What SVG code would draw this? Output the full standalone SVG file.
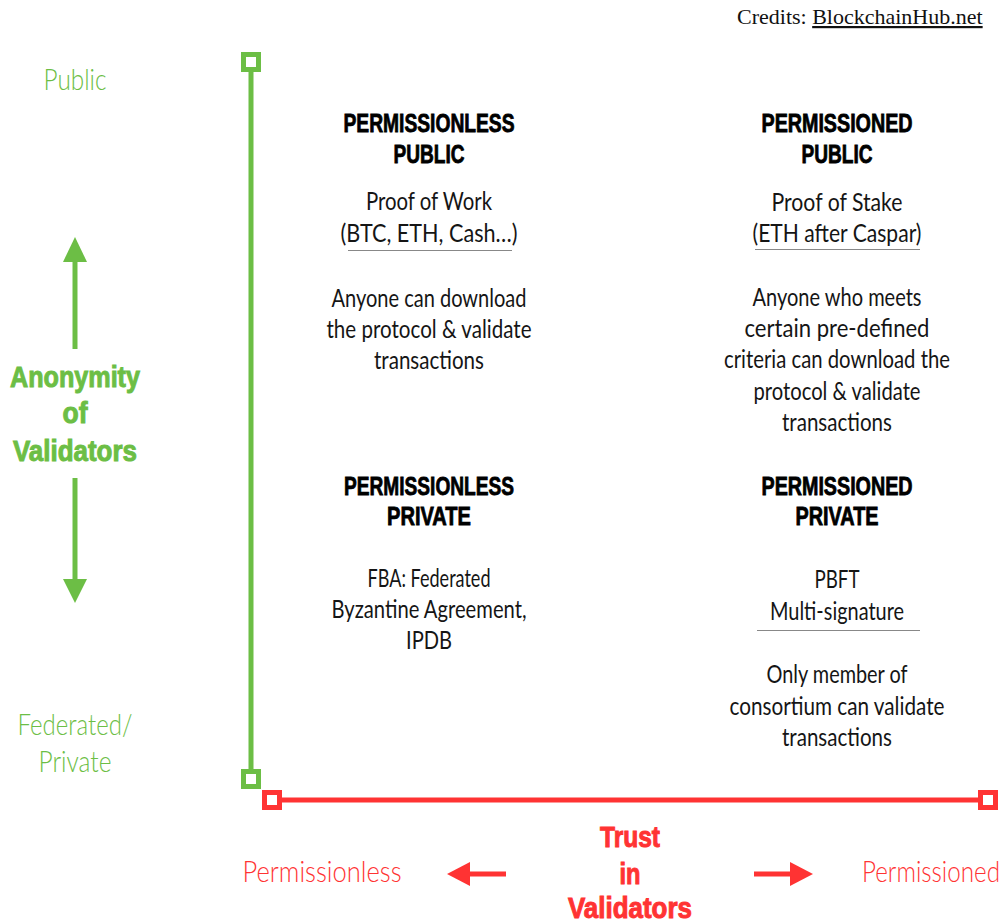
<svg xmlns="http://www.w3.org/2000/svg" width="1008" height="923" viewBox="0 0 1008 923">
<style>
.body{font-family:Lato,"Liberation Sans",sans-serif;font-weight:400;font-size:25px;fill:#151515;text-anchor:middle}
.head{font-family:"Liberation Sans",Arial,sans-serif;font-weight:700;font-size:25px;fill:#000;stroke:#000;stroke-width:0.8;text-anchor:middle}
.gl{font-family:Lato,"Liberation Sans",sans-serif;font-weight:300;font-size:30px;fill:#6CBE45;text-anchor:middle}
.rl{font-family:Lato,"Liberation Sans",sans-serif;font-weight:300;font-size:30px;fill:#FF3333;text-anchor:middle}
.gb{font-family:"Liberation Sans",Arial,sans-serif;font-weight:700;font-size:30px;fill:#6CBE45;stroke:#6CBE45;stroke-width:1;text-anchor:middle}
.rb{font-family:"Liberation Sans",Arial,sans-serif;font-weight:700;font-size:30px;fill:#FF3333;stroke:#FF3333;stroke-width:1;text-anchor:middle}
.ul{stroke:#888;stroke-width:1.2;fill:none}
.gax{stroke:#6CBE45;stroke-width:5;fill:none}
.rax{stroke:#FF3333;stroke-width:5;fill:none}
.gsq{stroke:#6CBE45;stroke-width:5;fill:#fff}
.rsq{stroke:#FF3333;stroke-width:5;fill:#fff}
</style>
<rect width="1008" height="923" fill="#fff"/>

<g id="credits">
<text x="737" y="24" font-family="Liberation Serif,Times New Roman,serif" font-size="22" fill="#111">Credits: <tspan text-decoration="underline">BlockchainHub.net</tspan></text>
</g>

<g id="connectors">
<line class="gax" x1="251" y1="70" x2="251" y2="771"/>
<rect class="gsq" x="243.5" y="54.5" width="15" height="15"/>
<rect class="gsq" x="243.5" y="771.5" width="15" height="15"/>
<line class="rax" x1="280" y1="800" x2="981" y2="800"/>
<rect class="rsq" x="264.5" y="792.5" width="15" height="15"/>
<rect class="rsq" x="980.5" y="792.5" width="15" height="15"/>
<line class="gax" x1="75" y1="258" x2="75" y2="349"/>
<polygon points="75,237 87,262 63,262" fill="#6CBE45"/>
<line class="gax" x1="75" y1="478" x2="75" y2="584"/>
<polygon points="75,603 87,579 63,579" fill="#6CBE45"/>
<line class="rax" x1="465" y1="874" x2="506" y2="874"/>
<polygon points="447,874 470,862 470,886" fill="#FF3333"/>
<line class="rax" x1="754" y1="874" x2="792" y2="874"/>
<polygon points="813,874 790,862 790,886" fill="#FF3333"/>
</g>

<g id="axis-y-labels">
<text class="gl" x="75" y="90" textLength="63" lengthAdjust="spacingAndGlyphs">Public</text>
<text class="gl" x="75" y="735" textLength="115" lengthAdjust="spacingAndGlyphs">Federated/</text>
<text class="gl" x="75" y="772" textLength="73" lengthAdjust="spacingAndGlyphs">Private</text>
<text class="gb" x="75" y="387" textLength="130" lengthAdjust="spacingAndGlyphs">Anonymity</text>
<text class="gb" x="75" y="423" textLength="25" lengthAdjust="spacingAndGlyphs">of</text>
<text class="gb" x="75" y="461" textLength="124" lengthAdjust="spacingAndGlyphs">Validators</text>
</g>

<g id="axis-x-labels">
<text class="rl" x="322" y="882" textLength="159" lengthAdjust="spacingAndGlyphs">Permissionless</text>
<text class="rl" x="1000" y="882" text-anchor="end" style="text-anchor:end" textLength="138" lengthAdjust="spacingAndGlyphs">Permissioned</text>
<text class="rb" x="630" y="847" textLength="60" lengthAdjust="spacingAndGlyphs">Trust</text>
<text class="rb" x="630" y="884" textLength="21" lengthAdjust="spacingAndGlyphs">in</text>
<text class="rb" x="630" y="918" textLength="124" lengthAdjust="spacingAndGlyphs">Validators</text>
</g>

<g id="permissionless-public">
<text class="head" x="429" y="132" textLength="171" lengthAdjust="spacingAndGlyphs">PERMISSIONLESS</text>
<text class="head" x="429" y="163" textLength="71" lengthAdjust="spacingAndGlyphs">PUBLIC</text>
<text class="body" x="429" y="210" textLength="126" lengthAdjust="spacingAndGlyphs">Proof of Work</text>
<text class="body" x="429" y="242" textLength="177" lengthAdjust="spacingAndGlyphs">(BTC, ETH, Cash…)</text>
<line class="ul" x1="348" y1="250.5" x2="512" y2="250.5"/>
<text class="body" x="429" y="307" textLength="195" lengthAdjust="spacingAndGlyphs">Anyone can download</text>
<text class="body" x="429" y="338" textLength="205" lengthAdjust="spacingAndGlyphs">the protocol &amp; validate</text>
<text class="body" x="429" y="369" textLength="110" lengthAdjust="spacingAndGlyphs">transactions</text>
</g>

<g id="permissioned-public">
<text class="head" x="837" y="132" textLength="151" lengthAdjust="spacingAndGlyphs">PERMISSIONED</text>
<text class="head" x="837" y="163" textLength="71" lengthAdjust="spacingAndGlyphs">PUBLIC</text>
<text class="body" x="837" y="211" textLength="131" lengthAdjust="spacingAndGlyphs">Proof of Stake</text>
<text class="body" x="837" y="242" textLength="169" lengthAdjust="spacingAndGlyphs">(ETH after Caspar)</text>
<line class="ul" x1="755" y1="249.5" x2="920" y2="249.5"/>
<text class="body" x="837" y="306" textLength="169" lengthAdjust="spacingAndGlyphs">Anyone who meets</text>
<text class="body" x="837" y="337" textLength="185" lengthAdjust="spacingAndGlyphs">certain pre-defined</text>
<text class="body" x="837" y="368" textLength="226" lengthAdjust="spacingAndGlyphs">criteria can download the</text>
<text class="body" x="837" y="400" textLength="167" lengthAdjust="spacingAndGlyphs">protocol &amp; validate</text>
<text class="body" x="837" y="431" textLength="110" lengthAdjust="spacingAndGlyphs">transactions</text>
</g>

<g id="permissionless-private">
<text class="head" x="429" y="495" textLength="170" lengthAdjust="spacingAndGlyphs">PERMISSIONLESS</text>
<text class="head" x="429" y="525" textLength="84" lengthAdjust="spacingAndGlyphs">PRIVATE</text>
<text class="body" x="429" y="587" textLength="123" lengthAdjust="spacingAndGlyphs">FBA: Federated</text>
<text class="body" x="429" y="618" textLength="195" lengthAdjust="spacingAndGlyphs">Byzantine Agreement,</text>
<text class="body" x="429" y="649" textLength="46" lengthAdjust="spacingAndGlyphs">IPDB</text>
</g>

<g id="permissioned-private">
<text class="head" x="837" y="495" textLength="151" lengthAdjust="spacingAndGlyphs">PERMISSIONED</text>
<text class="head" x="837" y="525" textLength="83" lengthAdjust="spacingAndGlyphs">PRIVATE</text>
<text class="body" x="837" y="588" textLength="45" lengthAdjust="spacingAndGlyphs">PBFT</text>
<text class="body" x="837" y="620" textLength="134" lengthAdjust="spacingAndGlyphs">Multi-signature</text>
<line class="ul" x1="757" y1="630.5" x2="920" y2="630.5"/>
<text class="body" x="837" y="683" textLength="141" lengthAdjust="spacingAndGlyphs">Only member of</text>
<text class="body" x="837" y="715" textLength="215" lengthAdjust="spacingAndGlyphs">consortium can validate</text>
<text class="body" x="837" y="746" textLength="110" lengthAdjust="spacingAndGlyphs">transactions</text>
</g>
</svg>
